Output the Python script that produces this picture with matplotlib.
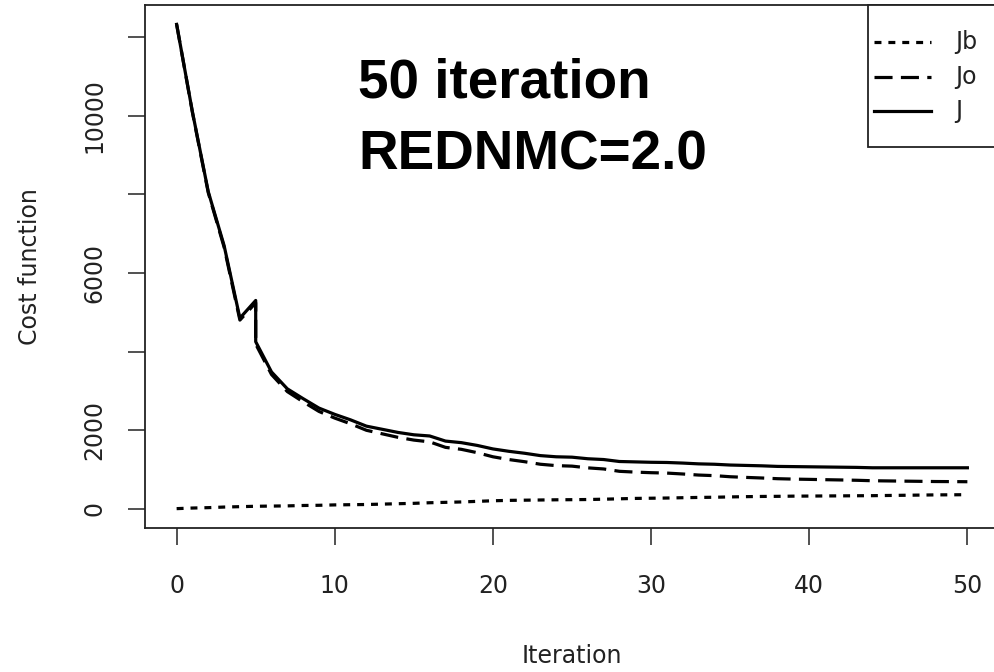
import matplotlib
matplotlib.use('Agg')
import matplotlib.pyplot as plt
from matplotlib.lines import Line2D
from matplotlib.patches import Rectangle

plt.rcParams['font.family'] = ['DejaVu Sans']
plt.rcParams['lines.scale_dashes'] = False

# iteration 5 appears twice (restart of the outer loop)
iteration = [0, 1, 2, 3, 4, 5, 5] + list(range(6, 51))

J = [12330, 10100, 8070, 6700, 4850, 5300, 4250, 3480, 3050, 2800,
     2560, 2400, 2260, 2100, 2020, 1940, 1880, 1850, 1720, 1680,
     1610, 1520, 1460, 1410, 1350, 1320, 1310, 1270, 1250, 1200,
     1190, 1180, 1175, 1160, 1140, 1130, 1110, 1100, 1090, 1075,
     1070, 1065, 1060, 1055, 1050, 1040, 1040, 1040, 1040, 1040,
     1040, 1040]

Jo = [12330, 10085, 8045, 6660, 4800, 5240, 4190, 3415, 2980, 2720,
      2475, 2305, 2160, 1995, 1905, 1815, 1745, 1700, 1560, 1510,
      1425, 1320, 1250, 1195, 1130, 1095, 1082, 1038, 1010, 950,
      930, 915, 905, 882, 855, 840, 812, 795, 780, 762,
      752, 745, 737, 730, 722, 710, 705, 700, 695, 690,
      688, 685]

Jb = [0, 15, 25, 40, 50, 60, 60, 65, 70, 80,
      85, 95, 100, 105, 115, 125, 135, 150, 160, 170,
      185, 200, 210, 215, 220, 225, 228, 232, 240, 250,
      260, 265, 270, 278, 285, 290, 298, 305, 310, 313,
      318, 320, 323, 325, 328, 330, 335, 340, 345, 350,
      352, 355]

names = ['Jb', 'Jo', 'J']
styles = [(0, (5, 5)), (0, (13, 6)), '-']

W, H = 994, 672
fig = plt.figure(figsize=(W / 100, H / 100), dpi=100)
ax = fig.add_axes([145 / W, 1 - 528 / H, (999 - 145) / W, (528 - 5) / H])

lw = 2.3
ax.plot(iteration, Jb, color='black', lw=lw, linestyle=styles[0])
ax.plot(iteration, Jo, color='black', lw=lw, linestyle=styles[1])
ax.plot(iteration, J, color='black', lw=lw, linestyle=styles[2])
ax.margins(0.04)

ax.set_xticks([0, 10, 20, 30, 40, 50])
ax.set_yticks([0, 2000, 4000, 6000, 8000, 10000, 12000])
ax.set_yticklabels(['0', '2000', '', '6000', '', '10000', ''],
                   rotation=90, va='center')
ax.tick_params(axis='both', length=12, width=1.1, labelsize=17,
               color='#222222', labelcolor='#222222')
ax.tick_params(axis='x', pad=21)
ax.tick_params(axis='y', pad=16)
for s in ax.spines.values():
    s.set_linewidth(1.3)
    s.set_color('#222222')

ax.set_xlabel('Iteration', fontsize=17, labelpad=33, color='#222222')
ax.set_ylabel('Cost function', fontsize=17, labelpad=29, color='#222222')

bold = dict(fontsize=39.5, fontweight='bold', family='Liberation Sans',
            transform=ax.transAxes, va='baseline', ha='left')
ax.text((358 - 145) / 854, (528 - 97) / 523, '50 iteration', **bold)
ax.text((358 - 145) / 854, (528 - 170) / 523, 'REDNMC=2.0', **bold)

# legend box, cut by the right edge like in the original
fig.add_artist(Rectangle((868 / W, 1 - 147 / H), 150 / W, 142 / H,
                         transform=fig.transFigure, facecolor='white',
                         edgecolor='#222222', lw=1.3, zorder=5))
for name, ls, yy in zip(names, styles, [42, 77, 111]):
    fig.add_artist(Line2D([874 / W, 931 / W], [1 - yy / H, 1 - yy / H],
                          transform=fig.transFigure, color='black', lw=lw,
                          linestyle=ls, zorder=6))
    fig.text(955 / W, 1 - yy / H, name, fontsize=17, va='center', ha='left',
             color='#222222', zorder=7)

fig.savefig('out.png', dpi=100)
